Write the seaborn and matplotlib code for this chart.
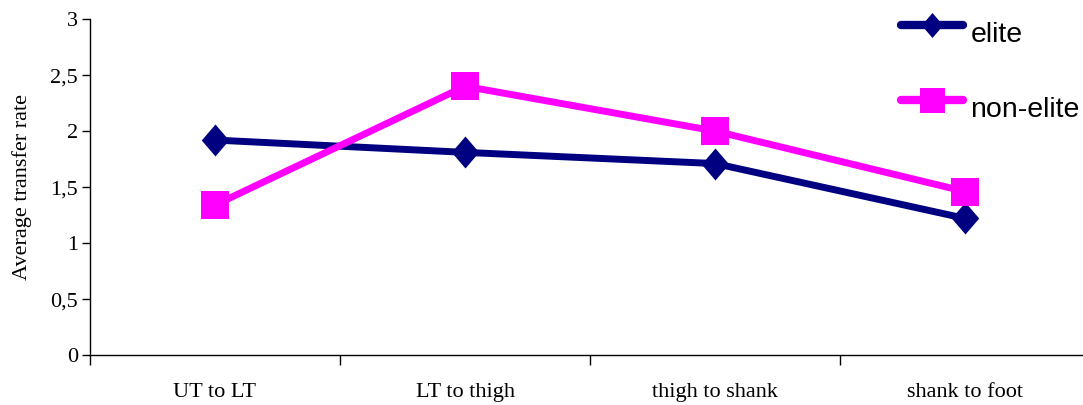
import pandas as pd
import numpy as np
import matplotlib
matplotlib.use('Agg')
import matplotlib.pyplot as plt
import seaborn as sns

# Values
segments = ['UT to LT', 'LT to thigh', 'thigh to shank', 'shank to foot']
elite = [1.92, 1.81, 1.71, 1.22]
non_elite = [1.34, 2.40, 2.00, 1.46]
y_ticks = [0, 0.5, 1, 1.5, 2, 2.5, 3]
y_tick_labels = ['0', '0,5', '1', '1,5', '2', '2,5', '3']

df = pd.DataFrame({
    'segment': segments * 2,
    'rate': elite + non_elite,
    'group': ['elite'] * 4 + ['non-elite'] * 4,
})

sns.set_style('white')
plt.rcParams['font.family'] = ['Liberation Serif', 'DejaVu Serif']
plt.rcParams['text.color'] = 'black'
plt.rcParams['axes.labelcolor'] = 'black'
plt.rcParams['xtick.color'] = 'black'
plt.rcParams['ytick.color'] = 'black'

# tall diamond like the original marker
tall_diamond = [(0, 1), (0.86, 0), (0, -1), (-0.86, 0), (0, 1)]

fig = plt.figure(figsize=(10.83, 4.05), dpi=100)
ax = fig.add_axes([0.083, 0.123, 0.917, 0.830])

sns.lineplot(data=df, x='segment', y='rate', hue='group', style='group',
             palette={'elite': '#000080', 'non-elite': '#FF00FF'},
             markers={'elite': 'D', 'non-elite': 's'},
             dashes=False, sort=False, linewidth=5, ax=ax, legend=False)

ax.lines[0].set_marker(tall_diamond)
ax.lines[0].set_markersize(23)
ax.lines[1].set_markersize(20)
for ln in ax.lines:
    ln.set_markeredgewidth(0)
    ln.set_solid_capstyle('round')

ax.set_xlim(-0.5, 3.47)
ax.set_ylim(0, 3)
ax.set_yticks(y_ticks)
ax.set_yticklabels(y_tick_labels)
ax.set_xticks(range(len(segments)))
ax.set_xticklabels(segments)
ax.set_xticks([-0.5, 0.5, 1.5, 2.5], minor=True)
ax.tick_params(axis='x', which='major', bottom=False, length=0, pad=20, labelsize=16)
ax.tick_params(axis='x', which='minor', bottom=True, length=7, width=1, direction='out', color='black')
ax.tick_params(axis='y', left=True, length=5.5, width=1, direction='out', color='black', labelsize=16, pad=3)
ax.set_xlabel('')
ax.set_ylabel('Average transfer rate', fontsize=16, labelpad=13)

for side in ['top', 'right']:
    ax.spines[side].set_visible(False)
for side in ['left', 'bottom']:
    ax.spines[side].set_color('black')
    ax.spines[side].set_linewidth(1)

# Legend drawn without a frame, wide spacing like the original
handles = [
    plt.Line2D([], [], color='#000080', marker=tall_diamond, markersize=18, linewidth=6,
               markeredgewidth=0, solid_capstyle='round'),
    plt.Line2D([], [], color='#FF00FF', marker='s', markersize=18, linewidth=6,
               markeredgewidth=0, solid_capstyle='round'),
]
leg = fig.legend(handles, ['elite', 'non-elite'], loc='upper left',
                 bbox_to_anchor=(0.821, 0.99), frameon=False, handlelength=2.2,
                 handletextpad=0.25, labelspacing=1.71, borderaxespad=0,
                 prop={'family': ['Liberation Sans Narrow', 'Liberation Sans'], 'size': 20.5})
for t in leg.get_texts():
    t.set_va('center')

fig.savefig('out.png', dpi=100)
